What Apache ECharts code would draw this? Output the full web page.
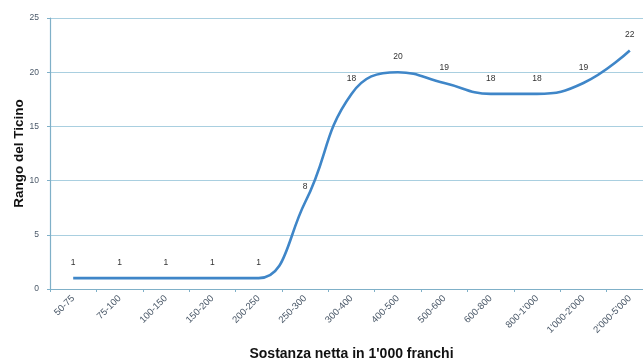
<!DOCTYPE html>
<html>
<head>
<meta charset="utf-8">
<script src="https://cdn.jsdelivr.net/npm/echarts@6/dist/echarts.min.js"></script>
<style>
  html, body { margin: 0; padding: 0; background: #ffffff; }
  #chart { width: 643px; height: 358px; }
</style>
</head>
<body>
<div id="chart"></div>
<script>
// Wealth classes (net assets, thousands of francs)
const categories = ['50-75', '75-100', '100-150', '150-200', '200-250', '250-300', '300-400',
  '400-500', '500-600', '600-800', '800-1\'000', '1\'000-2\'000', '2\'000-5\'000'];
// Ticino's rank for each class
const rankValues = [1, 1, 1, 1, 1, 8, 18, 20, 19, 18, 18, 19, 22];
const yTicks = [0, 5, 10, 15, 20, 25];

const FONT = '"Liberation Sans", Arial, sans-serif';
const chart = echarts.init(document.getElementById('chart'), null, { renderer: 'canvas' });

chart.setOption({
  animation: false,
  backgroundColor: '#ffffff',
  grid: { left: 50, top: 18, width: 603, height: 271, containLabel: false, outerBoundsMode: 'none' },
  xAxis: {
    type: 'category',
    data: categories,
    boundaryGap: true,
    name: 'Sostanza netta in 1\'000 franchi',
    nameLocation: 'middle',
    nameGap: 58,
    nameTextStyle: { fontFamily: FONT, fontWeight: 'bold', fontSize: 14, color: '#111' },
    axisLine: { lineStyle: { color: '#7fb0c8', width: 1.2 } },
    axisTick: { show: true, alignWithLabel: false, length: 3, lineStyle: { color: '#7fb0c8' } },
    axisLabel: {
      interval: 0, rotate: 45, fontFamily: FONT, fontSize: 9.5, color: '#4a5868', margin: 8
    },
    splitLine: { show: false }
  },
  yAxis: {
    type: 'value',
    min: yTicks[0],
    max: yTicks[yTicks.length - 1],
    interval: 5,
    name: 'Rango del Ticino',
    nameLocation: 'middle',
    nameGap: 24,
    nameMoveOverlap: false,
    nameRotate: 90,
    nameTextStyle: { fontFamily: FONT, fontWeight: 'bold', fontSize: 13.5, color: '#111' },
    axisLine: { show: true, lineStyle: { color: '#7fb0c8', width: 1.2 } },
    axisTick: { show: true, length: 3, lineStyle: { color: '#7fb0c8' } },
    axisLabel: { fontFamily: FONT, fontSize: 8.5, color: '#4a5868', margin: 11 },
    splitLine: { show: true, lineStyle: { color: '#a9cfe0', width: 1 } }
  },
  series: [{
    type: 'line',
    data: rankValues,
    smooth: 0.45,
    symbol: 'circle',
    symbolSize: 2,
    showSymbol: true,
    showAllSymbol: true,
    itemStyle: { color: 'rgba(0,0,0,0)' },
    lineStyle: { color: '#3f86c8', width: 2.6 },
    label: {
      show: true,
      position: 'top',
      distance: 10,
      fontFamily: FONT,
      fontSize: 8.5,
      color: '#333333',
      opacity: 1
    },
    labelLayout: { hideOverlap: false }
  }]
});
</script>
</body>
</html>
